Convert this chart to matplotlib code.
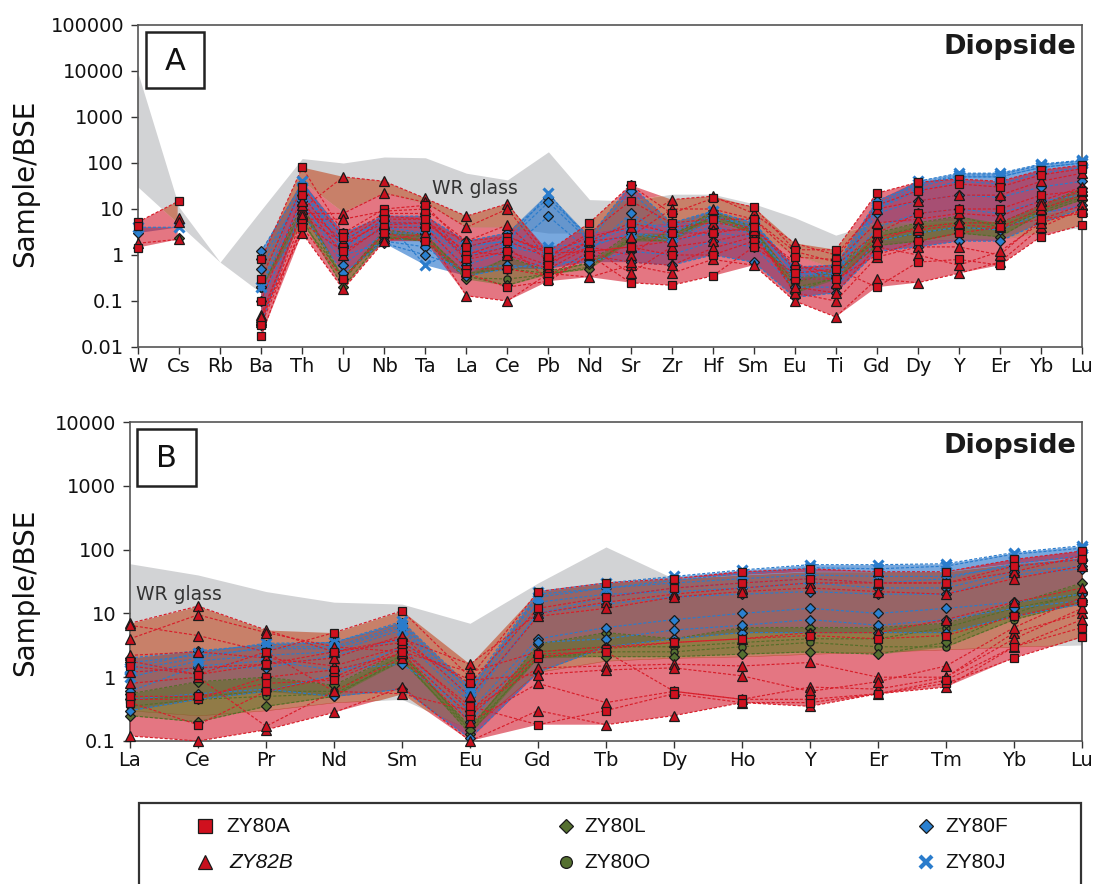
import warnings
import numpy as np
import matplotlib
matplotlib.use("Agg")
import matplotlib.pyplot as plt
from matplotlib.patches import Rectangle
from matplotlib.ticker import NullLocator

NA = np.nan

# ---------------- panel A : extended trace-element pattern ----------------
elements_a = ["W", "Cs", "Rb", "Ba", "Th", "U", "Nb", "Ta", "La", "Ce", "Pb", "Nd",
              "Sr", "Zr", "Hf", "Sm", "Eu", "Ti", "Gd", "Dy", "Y", "Er", "Yb", "Lu"]

glass_a_lo = [30, 4.6, 0.7, 0.15, 40, 8.5, 22, 13, 4, 4, 3, 3, 4, 5, 5, 3, 1.0, 0.5,
              2, 2, 2.2, 2.2, 3, 4]
glass_a_hi = [9000, 11, 0.7, 9.5, 125, 100, 135, 130, 60, 43, 175, 16, 15, 21, 21, 13,
              6.5, 2.7, 5, 5, 5.5, 5.5, 8, 10]

zy80a_a = [
    [5.2, 15, NA, 0.8, 80, 3.0, 10, 12, 1.5, 2.5, 1.2, 5.0, 33, 8, 17, 11, 1.3, 1.3, 22, 38, 45, 40, 70, 90],
    [4.2, NA, NA, 0.3, 30, 2.5, 8, 8, 1.0, 2.0, 0.9, 3.0, 15, 5, 6, 6, 0.9, 0.8, 12, 25, 35, 30, 55, 75],
    [1.45, NA, NA, 0.1, 20, 1.5, 6, 6, 0.8, 1.2, 0.6, 2.0, 5, 3, 3, 4, 0.5, 0.6, 3, 8, 10, 10, 20, 25],
    [NA, NA, NA, 0.017, 5, 1.2, 4, 4, 0.5, 0.5, 0.35, 1.2, 1.5, 1.0, 1.0, 2, 0.3, 0.3, 1.0, 2, 3, 4, 6, 8],
    [NA, NA, NA, 0.03, 4, 0.3, 3, 2, 0.4, 0.2, 0.27, 1.0, 0.25, 0.22, 0.35, 1.5, 0.4, 0.5, 0.2, 0.7, 0.8, 0.6, 2.5, 4.5],
]
zy82b_a = [
    [NA, 6.5, NA, 0.04, 10, 50, 40, 17, 7, 13, 1.0, 2.5, 4, 16, 19, 8, 1.8, 1.0, 10, 15, 20, 20, 40, 60],
    [NA, 5.3, NA, 0.05, 8, 8, 22, 14, 4, 10, 0.8, 2.0, 2.5, 10, 10, 6, 1.2, 0.7, 5, 6, 8, 7, 15, 30],
    [1.8, 2.2, NA, 0.035, 6, 6, 9, 10, 2.0, 4.5, 0.7, 1.5, 1.0, 4, 5, 4, 0.6, 0.4, 2.5, 3.5, 4.5, 4, 10, 20],
    [NA, NA, NA, 0.045, 3, 0.18, 2, 3, 0.13, 0.1, 0.4, 0.33, 0.6, 0.4, 0.8, 0.6, 0.1, 0.045, 0.3, 0.25, 0.4, 0.7, 4, 10],
    [NA, NA, NA, NA, 7, 1.8, 5, 5, 1.2, 1.0, 0.5, 1.5, 0.4, 1.5, 2, 3, 0.15, 0.1, 0.9, 1.5, 1.5, 1.0, 6, 12],
    [NA, NA, NA, NA, 12, 2.0, 7, 6, 0.9, 1.5, 0.3, 1.0, 0.7, 0.6, 1.4, 2.5, 0.2, 0.15, 1.5, 1.0, 0.6, 1.2, 5, 9],
    [NA, NA, NA, NA, 15, 1.0, 4.5, 5, 2.0, 2.5, 1.1, 1.2, 1.5, 2, 3.5, 3.5, 0.7, 0.25, 2, 4, 5, 5, 12, 25],
]
zy80l_a = [
    [NA, 2.4, NA, 0.2, 12, 0.3, 3.5, 2.8, 0.35, 0.22, 0.4, 0.5, 2.5, 2.5, 9, 4, 0.15, 0.35, 2.5, 4, 5, 5, 12, 28],
    [NA, NA, NA, NA, 6, 0.2, 2.5, 2.0, 0.3, 0.9, 0.45, 0.65, 2.0, 3, 6, 3, 0.2, 0.3, 1.6, 2, 3, 2.5, 8, 16],
]
zy80o_a = [
    [NA, NA, NA, 0.19, 9, 0.28, 3, 2.5, 0.4, 0.5, 0.4, 0.7, 3, 2.2, 7, 3.5, 0.3, 0.5, 3, 5, 7, 4, 10, 20],
    [NA, NA, NA, NA, 5, 0.35, 2.3, 2.2, 0.32, 0.3, 0.38, 0.55, 2.2, 2.0, 8, 3.2, 0.25, 0.45, 2.0, 3, 4, 3.5, 9, 18],
]
zy80f_a = [
    [3.0, NA, NA, 1.2, 35, 3.0, 7, 7, 2.0, 3.0, 17, 2.5, 33, 5, 9, 5, 0.55, 0.6, 15, 35, 50, 50, 80, 100],
    [NA, NA, NA, 0.8, 20, 2.5, 5, 5, 1.5, 2.0, 14, 2.0, 25, 3.5, 7, 4, 0.4, 0.4, 10, 25, 40, 35, 60, 80],
    [NA, NA, NA, 0.2, 15, 0.6, 3, 3, 0.6, 1.2, 7, 1.2, 8, 2.5, 4, 3, 0.3, 0.3, 4, 8, 10, 8, 15, 20],
    [NA, NA, NA, 0.1, 8, 0.4, 2, 1.5, 0.35, 0.5, 0.7, 0.7, 1.2, 1.0, 2, 1.5, 0.2, 0.2, 2, 3, 4, 3.5, 8, 12],
    [NA, NA, NA, 0.03, 12, 1.0, 1.8, 1.0, 0.5, 0.6, 0.5, 1.0, 0.7, 0.6, 1.0, 0.7, 0.12, 0.15, 1.2, 1.5, 2, 2, 5, 10],
    [NA, NA, NA, 0.5, 25, 1.5, 4, 4, 1.0, 1.5, 1.0, 1.5, 3, 2, 3, 2.5, 0.35, 0.35, 8, 15, 20, 18, 30, 40],
]
zy80j_a = [
    [4.0, 4.0, NA, 0.2, 40, 2.0, 6, 0.6, 1.6, 2.0, 22, 2.0, 5, 4, 9, 5, 0.5, 0.5, 12, 40, 60, 60, 95, 115],
    [NA, NA, NA, NA, 30, 1.5, 5, 4, 1.2, 1.8, 1.5, 1.8, 4, 3, 7, 4.5, 0.45, 0.4, 11, 35, 55, 55, 90, 110],
    [NA, NA, NA, NA, 20, 1.2, 4, 3, 1.0, 1.5, 1.3, 1.5, 3, 2.5, 5, 4, 0.4, 0.35, 10, 30, 50, 50, 80, 100],
]

# ---------------- panel B : REE + Y pattern ----------------
elements_b = ["La", "Ce", "Pr", "Nd", "Sm", "Eu", "Gd", "Tb", "Dy", "Ho", "Y", "Er", "Tm", "Yb", "Lu"]

glass_b_lo = [0.3, 0.25, 0.3, 0.4, 0.45, 0.15, 1.2, 1.8, 2.0, 2.1, 2.3, 2.5, 2.7, 3.0, 3.2]
glass_b_hi = [60, 40, 22, 15, 14, 7, 30, 110, 35, 40, 45, 45, 45, 60, 75]

zy80a_b = [
    [1.8, 1.1, 2.5, 5.0, 11, 1.0, 22, 30, 35, 45, 50, 45, 45, 70, 95],
    [1.5, 1.1, 1.6, 2.5, 3.5, 0.8, 12, 18, 25, 30, 35, 30, 30, 55, 70],
    [0.45, 0.45, 1.0, 1.3, 2.3, 0.25, 2.0, 2.8, 3.5, 4, 4.5, 4.0, 4.5, 9, 15],
    [0.4, 0.18, 0.6, 1.0, 2.8, 0.3, 2.3, 2.5, 0.6, 0.45, 0.45, 0.55, 0.8, 2.0, 4.3],
    [0.5, 0.5, 0.8, 0.9, 2.5, 0.35, 0.18, 0.3, 0.55, 0.4, 0.4, 0.55, 0.9, 3, 6],
]
zy82b_b = [
    [7, 13, 5.5, 2.5, 4, 1.6, 10, 15, 20, 25, 30, 30, 30, 45, 80],
    [4, 9.5, 5, 3, 2.5, 1.2, 2.5, 3, 3.5, 4, 5, 5, 8, 15, 25],
    [6.5, 4.5, 2.5, 0.6, 0.55, 0.3, 1.4, 1.5, 1.6, 1.5, 1.7, 1.0, 1.0, 5, 10],
    [0.12, 0.1, 0.15, 0.28, 0.7, 0.1, 0.3, 0.18, 0.25, 0.4, 0.35, 0.55, 0.7, 3, 8],
    [0.8, 1.0, 0.17, 0.6, 2, 0.2, 0.8, 0.4, 0.6, 0.45, 0.7, 0.65, 1.0, 4, 12],
    [2.2, 2.5, 2.0, 1.5, 3, 0.9, 1.1, 1.3, 1.4, 1.05, 0.6, 0.85, 1.5, 6, 18],
    [1.2, 1.4, 1.6, 2.0, 4.5, 0.5, 9, 12, 18, 22, 25, 22, 20, 35, 55],
]
zy80l_b = [
    [0.25, 0.2, 0.35, 0.5, 2, 0.13, 2.2, 2.1, 2.1, 2.3, 2.5, 2.3, 3.5, 10, 22],
    [0.55, 0.85, 1.0, 0.75, 2.5, 0.15, 3.3, 5, 4, 6, 6, 6, 7, 14, 30],
]
zy80o_b = [
    [0.45, 0.5, 0.6, 0.6, 2.2, 0.17, 2.5, 3, 3, 3.5, 4, 4, 6, 12, 20],
    [0.35, 0.45, 0.5, 0.55, 1.8, 0.15, 2.0, 2.5, 2.5, 3, 3.5, 3, 3, 8, 15],
]
zy80f_b = [
    [2.0, 2.6, 3.2, 3.5, 7, 0.6, 20, 25, 30, 35, 40, 38, 38, 55, 70],
    [1.7, 2.2, 2.8, 2.8, 6, 0.5, 15, 20, 22, 25, 30, 25, 25, 45, 55],
    [0.6, 1.5, 1.8, 1.3, 1.6, 0.3, 4, 6, 8, 10, 12, 10, 12, 15, 20],
    [0.45, 0.55, 0.65, 0.5, 0.65, 0.11, 1.2, 3, 4, 5, 5, 5, 5, 9, 14],
    [0.3, 0.45, 0.6, 1.1, 3, 0.2, 3.5, 4, 5.5, 6.5, 8, 6.5, 8, 12, 16],
    [1.2, 1.4, 1.4, 2.2, 4, 0.4, 10, 14, 18, 20, 22, 20, 20, 40, 50],
]
zy80j_b = [
    [1.4, 2.4, 3.4, 3.5, 7.5, 0.7, 22, 30, 38, 48, 58, 58, 60, 90, 115],
    [1.3, 2.0, 3.0, 3.0, 6.5, 0.6, 18, 25, 33, 42, 52, 50, 55, 85, 105],
    [1.0, 1.8, 2.2, 2.5, 5.5, 0.45, 10, 18, 25, 30, 35, 30, 35, 60, 80],
]

# ---------------- styles ----------------
RED_LINE, BLUE_LINE, GREEN_LINE = "#d81e2a", "#2a7ccc", "#566f2a"
GRAY_FILL = "#d2d3d5"
RED_FILL = (206 / 255, 6 / 255, 28 / 255)       # pink where alone
BROWN_FILL = (192 / 255, 60 / 255, 17 / 255)    # red envelope lying on the glass band
BLUE_FILL = (30 / 255, 110 / 255, 200 / 255)
GREEN_FILL = (80 / 255, 118 / 255, 30 / 255)
RED_ALPHA, BLUE_ALPHA, GREEN_ALPHA = 0.55, 0.6, 0.45

sample_styles = {
    "ZY80A": dict(marker="s", mfc="#d0101e", mec="#1a1a1a", ms=6.0, mew=0.9),
    "ZY82B": dict(marker="^", mfc="#c8101e", mec="#1a1a1a", ms=6.5, mew=0.9),
    "ZY80L": dict(marker="D", mfc="#557030", mec="#1a1a1a", ms=4.6, mew=0.9),
    "ZY80O": dict(marker="o", mfc="#557030", mec="#1a1a1a", ms=5.2, mew=0.9),
    "ZY80F": dict(marker="D", mfc="#2a80d0", mec="#1a1a1a", ms=4.6, mew=0.9),
    "ZY80J": dict(marker="x", mfc="#2a7ccc", mec="#2a7ccc", ms=6.5, mew=2.2),
}
legend_size = {"ZY80A": 9.5, "ZY82B": 10.5, "ZY80L": 7.5, "ZY80O": 8.5, "ZY80F": 7.5, "ZY80J": 9.0}
line_colour = {"ZY80A": RED_LINE, "ZY82B": RED_LINE, "ZY80L": GREEN_LINE,
               "ZY80O": GREEN_LINE, "ZY80F": BLUE_LINE, "ZY80J": BLUE_LINE}


def envelope(*groups):
    arr = np.array([row for g in groups for row in g], dtype=float)
    with warnings.catch_warnings():
        warnings.simplefilter("ignore")
        return np.nanmin(arr, axis=0), np.nanmax(arr, axis=0)


def densify(lo, hi, steps=30):
    """Resample a band on a fine x grid, interpolating linearly in log space."""
    lo, hi = np.asarray(lo, float), np.asarray(hi, float)
    n = len(lo)
    t = np.arange(steps) / steps
    xs, ls, hs = [], [], []
    for i in range(n - 1):
        xs.append(i + t)
        if np.all(np.isfinite([lo[i], lo[i + 1], hi[i], hi[i + 1]])):
            ls.append(10 ** (np.log10(lo[i]) + t * (np.log10(lo[i + 1]) - np.log10(lo[i]))))
            hs.append(10 ** (np.log10(hi[i]) + t * (np.log10(hi[i + 1]) - np.log10(hi[i]))))
        else:
            ls.append(np.full(steps, NA))
            hs.append(np.full(steps, NA))
    xs.append([n - 1.0])
    ls.append([lo[-1]])
    hs.append([hi[-1]])
    return np.concatenate(xs), np.concatenate(ls), np.concatenate(hs)


def band(ax, x, lo, hi, color, alpha, z):
    with np.errstate(invalid="ignore"):
        mask = hi > lo
    ax.fill_between(x, lo, hi, where=mask, interpolate=True, color=color, alpha=alpha,
                    lw=0, zorder=z)


def draw_panel(ax, elements, glass_lo, glass_hi, data, yticks, ylabels):
    n = len(elements)
    red_lo, red_hi = envelope(data["ZY80A"], data["ZY82B"])
    grn_lo, grn_hi = envelope(data["ZY80L"], data["ZY80O"])
    blu_lo, blu_hi = envelope(data["ZY80F"], data["ZY80J"])

    xg, gl, gh = densify(glass_lo, glass_hi)
    ax.fill_between(xg, gl, gh, color=GRAY_FILL, lw=0, zorder=1)

    xb, bl, bh = densify(blu_lo, blu_hi)
    band(ax, xb, bl, bh, BLUE_FILL, BLUE_ALPHA, 2)

    # red envelope split into the parts outside and inside the glass band
    xr, rl, rh = densify(red_lo, red_hi)
    band(ax, xr, np.maximum(rl, gh), rh, RED_FILL, RED_ALPHA, 3)
    band(ax, xr, rl, np.minimum(rh, gl), RED_FILL, RED_ALPHA, 3)
    band(ax, xr, np.maximum(rl, gl), np.minimum(rh, gh), BROWN_FILL, RED_ALPHA, 3)

    xx, l2, h2 = densify(grn_lo, grn_hi)
    band(ax, xx, l2, h2, GREEN_FILL, GREEN_ALPHA, 3.5)

    x = np.arange(n)
    order = ["ZY80O", "ZY80L", "ZY80F", "ZY80J", "ZY82B", "ZY80A"]
    for name in order:
        for row in data[name]:
            ax.plot(x, row, ls=(0, (2.6, 1.6)), lw=0.85, color=line_colour[name], zorder=4)
    for name in order:
        for row in data[name]:
            ax.plot(x, row, ls="none", zorder=5, clip_on=False, **sample_styles[name])

    ax.set_yscale("log")
    ax.set_xlim(0, n - 1)
    ax.set_ylim(yticks[0], yticks[-1])
    ax.set_yticks(yticks)
    ax.set_yticklabels(ylabels)
    ax.yaxis.set_minor_locator(NullLocator())
    ax.set_xticks(x)
    ax.set_xticklabels(elements)
    ax.tick_params(axis="both", direction="out", length=5, width=1.0, color="#333333",
                   labelsize=14, labelcolor="#111111")
    ax.tick_params(axis="y", pad=5)
    ax.tick_params(axis="x", pad=2)
    for s in ax.spines.values():
        s.set_color("#555555")
        s.set_linewidth(1.2)


W_PX, H_PX = 1099, 884
fig = plt.figure(figsize=(W_PX / 100, H_PX / 100), dpi=100)


def px_rect(x0, y0, x1, y1):
    return [x0 / W_PX, 1 - y1 / H_PX, (x1 - x0) / W_PX, (y1 - y0) / H_PX]


ax_a = fig.add_axes(px_rect(138, 25, 1082, 347))
ax_b = fig.add_axes(px_rect(130, 422, 1082, 741))

data_a = {"ZY80A": zy80a_a, "ZY82B": zy82b_a, "ZY80L": zy80l_a, "ZY80O": zy80o_a,
          "ZY80F": zy80f_a, "ZY80J": zy80j_a}
data_b = {"ZY80A": zy80a_b, "ZY82B": zy82b_b, "ZY80L": zy80l_b, "ZY80O": zy80o_b,
          "ZY80F": zy80f_b, "ZY80J": zy80j_b}

draw_panel(ax_a, elements_a, glass_a_lo, glass_a_hi, data_a,
           [1e-2, 1e-1, 1, 10, 100, 1000, 10000, 100000],
           ["0.01", "0.1", "1", "10", "100", "1000", "10000", "100000"])
draw_panel(ax_b, elements_b, glass_b_lo, glass_b_hi, data_b,
           [1e-1, 1, 10, 100, 1000, 10000],
           ["0.1", "1", "10", "100", "1000", "10000"])

# ---------------- annotation layer in pixel coordinates ----------------
ov = fig.add_axes([0, 0, 1, 1], zorder=10)
ov.set_xlim(0, W_PX)
ov.set_ylim(H_PX, 0)
ov.axis("off")

for cx, cy in [(25, 183), (25, 592)]:
    ov.text(cx, cy, "Sample/BSE", rotation=90, ha="center", va="center", fontsize=20, color="#111111")

for (x0, y0, x1, y1, lab) in [(146, 32, 204, 88, "A"), (137, 429, 196, 486, "B")]:
    ov.add_patch(Rectangle((x0, y0), x1 - x0, y1 - y0, facecolor="white", edgecolor="#222222", lw=1.8))
    ov.text((x0 + x1) / 2, (y0 + y1) / 2 + 1, lab, ha="center", va="center", fontsize=22, color="#111111")

for y in [47, 446]:
    ov.text(1076, y, "Diopside", ha="right", va="center", fontsize=19.5, fontweight="bold", color="#1a1a1a")

ov.text(432, 189, "WR glass", ha="left", va="center", fontsize=13.5, color="#333333")
ov.text(136, 595, "WR glass", ha="left", va="center", fontsize=13.5, color="#333333")

# legend box
ov.add_patch(Rectangle((139, 803), 942, 120, facecolor="white", edgecolor="#333333", lw=1.6, clip_on=False))
legend_items = [("ZY80A", 205, 226, 826, "normal"), ("ZY82B", 205, 229, 862, "italic"),
                ("ZY80L", 566, 584, 826, "normal"), ("ZY80O", 566, 584, 862, "normal"),
                ("ZY80F", 926, 945, 826, "normal"), ("ZY80J", 926, 945, 862, "normal")]
for name, mx, tx, y, style in legend_items:
    st = dict(sample_styles[name])
    st["ms"] = legend_size[name]
    if name == "ZY80J":
        st["mew"] = 3.0
    ov.plot([mx], [y], ls="none", **st)
    ov.text(tx, y, name, ha="left", va="center", fontsize=15, style=style,
            family=["Liberation Sans", "DejaVu Sans"], color="#111111")

fig.savefig("out.png", dpi=100)
